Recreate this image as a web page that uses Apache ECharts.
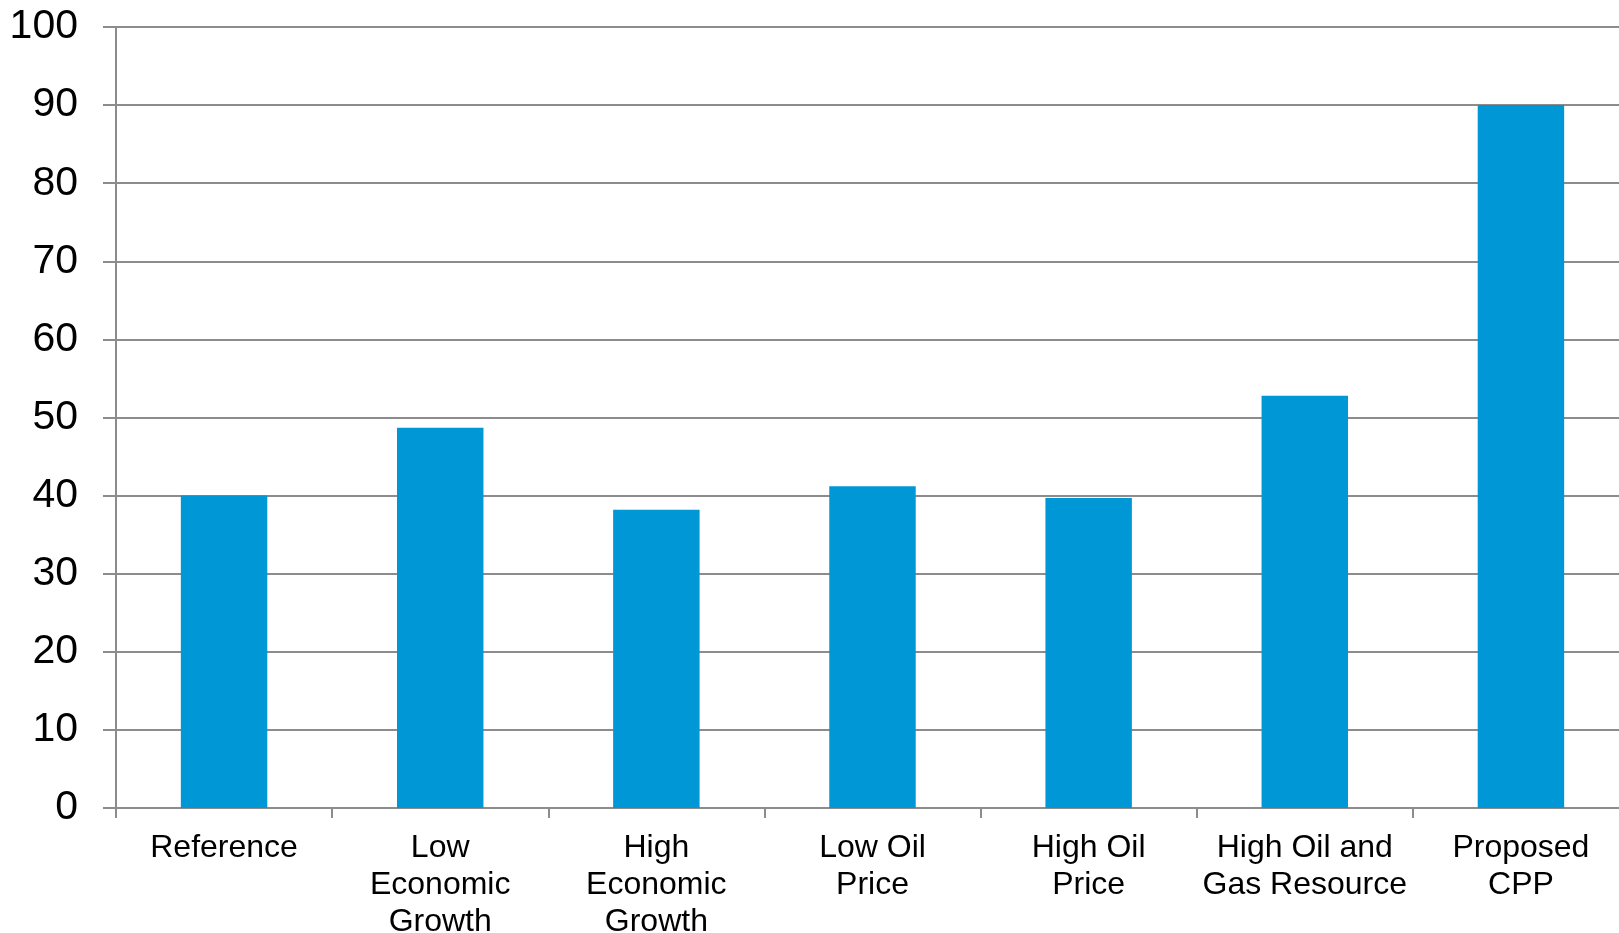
<!DOCTYPE html>
<html>
<head>
<meta charset="utf-8">
<script src="https://cdn.jsdelivr.net/npm/echarts@6/dist/echarts.min.js"></script>
<style>
  html, body { margin: 0; padding: 0; background: #ffffff; }
  #chart { width: 1619px; height: 933px; }
</style>
</head>
<body>
<div id="chart"></div>
<script>
// Scenario names (category axis)
const categories = [
  'Reference',
  'Low\nEconomic\nGrowth',
  'High\nEconomic\nGrowth',
  'Low Oil\nPrice',
  'High Oil\nPrice',
  'High Oil and\nGas Resource',
  'Proposed\nCPP'
];
// Bar values per scenario
const values = [40.0, 48.7, 38.2, 41.2, 39.7, 52.8, 90.0];
// Value axis range
const yMin = 0;
const yMax = 100;
const yStep = 10;

const gray = '#8c8c8c';
const chart = echarts.init(document.getElementById('chart'), null, { renderer: 'canvas' });
chart.setOption({
  animation: false,
  backgroundColor: '#ffffff',
  grid: {
    left: 116, top: 27, bottom: 125, right: -10,
    containLabel: false,
    outerBoundsMode: 'none'
  },
  xAxis: {
    type: 'category',
    data: categories,
    boundaryGap: true,
    axisLine: { show: true, lineStyle: { color: gray, width: 2 } },
    axisTick: { show: true, length: 10, alignWithLabel: false, lineStyle: { color: gray, width: 2 } },
    axisLabel: {
      interval: 0,
      margin: 22,
      color: '#000000',
      fontFamily: 'Liberation Sans, Arial, sans-serif',
      fontSize: 32,
      lineHeight: 37,
      align: 'center'
    },
    splitLine: { show: false }
  },
  yAxis: {
    type: 'value',
    min: yMin,
    max: yMax,
    interval: yStep,
    axisLine: { show: true, lineStyle: { color: gray, width: 2 } },
    axisTick: { show: true, length: 13, lineStyle: { color: gray, width: 2 } },
    axisLabel: {
      margin: 38,
      color: '#000000',
      fontFamily: 'Liberation Sans, Arial, sans-serif',
      fontSize: 41
    },
    splitLine: { show: true, lineStyle: { color: gray, width: 2 } }
  },
  series: [{
    type: 'bar',
    data: values,
    barWidth: '40%',
    itemStyle: { color: '#0097d7' }
  }]
});
</script>
</body>
</html>
